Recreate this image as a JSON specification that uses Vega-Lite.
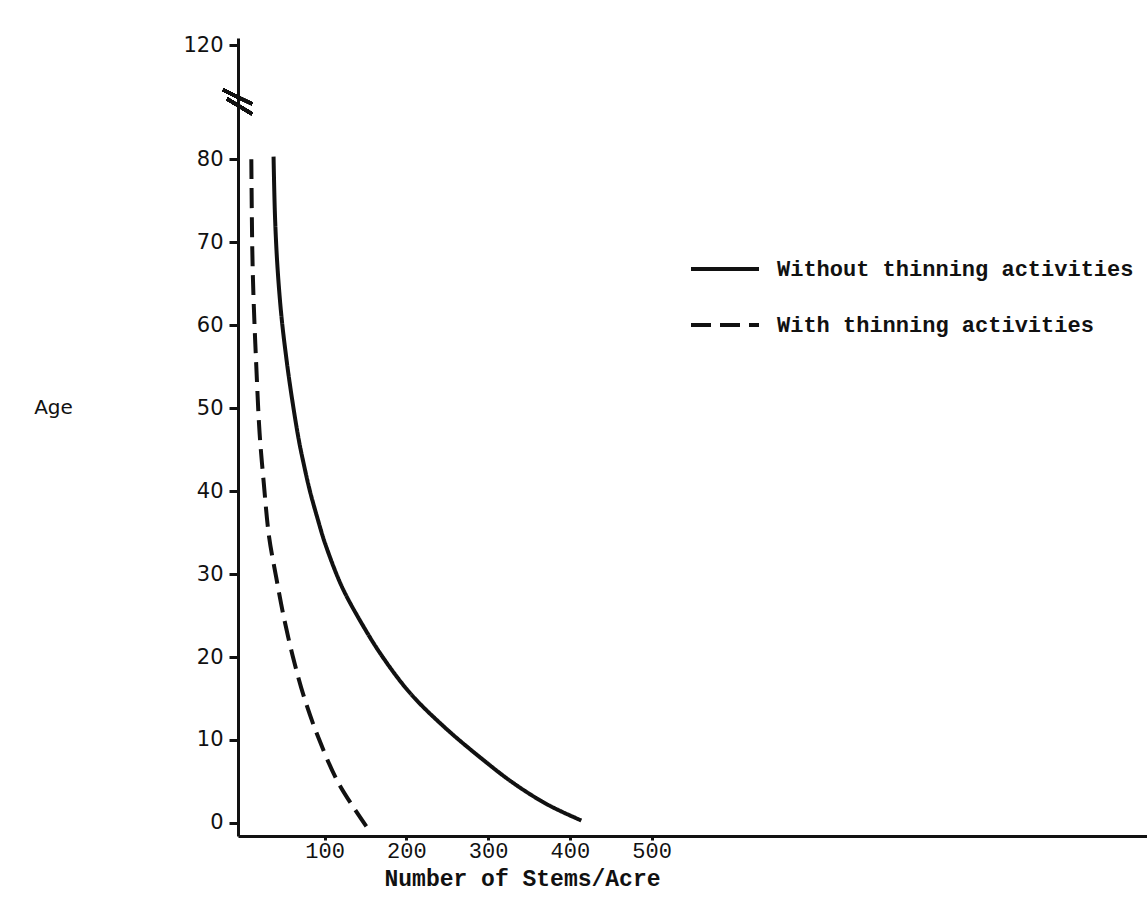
{
  "$schema": "https://vega.github.io/schema/vega-lite/v6.json",
  "autosize": {"type": "none"},
  "padding": {"left": 238, "top": 38, "right": 0, "bottom": 88},
  "width": 909,
  "height": 798,
  "background": "white",
  "config": {
    "view": {"stroke": null},
    "axis": {"grid": false, "domainColor": "#111", "domainWidth": 3, "tickColor": "#111", "tickWidth": 3, "labelColor": "#111", "titleColor": "#111"}
  },
  "data": {
    "values": [
      {"stems": 37.5, "age": 80.3, "series": "Without thinning activities"},
      {"stems": 39.3, "age": 73, "series": "Without thinning activities"},
      {"stems": 42.3, "age": 67, "series": "Without thinning activities"},
      {"stems": 47.2, "age": 61, "series": "Without thinning activities"},
      {"stems": 53.8, "age": 55.5, "series": "Without thinning activities"},
      {"stems": 60.3, "age": 51, "series": "Without thinning activities"},
      {"stems": 68.5, "age": 46.1, "series": "Without thinning activities"},
      {"stems": 75, "age": 43, "series": "Without thinning activities"},
      {"stems": 82, "age": 40, "series": "Without thinning activities"},
      {"stems": 91, "age": 36.8, "series": "Without thinning activities"},
      {"stems": 100.5, "age": 33.7, "series": "Without thinning activities"},
      {"stems": 121, "age": 28.5, "series": "Without thinning activities"},
      {"stems": 145, "age": 24.1, "series": "Without thinning activities"},
      {"stems": 171, "age": 20, "series": "Without thinning activities"},
      {"stems": 205, "age": 15.6, "series": "Without thinning activities"},
      {"stems": 246, "age": 11.6, "series": "Without thinning activities"},
      {"stems": 289, "age": 8, "series": "Without thinning activities"},
      {"stems": 331, "age": 4.8, "series": "Without thinning activities"},
      {"stems": 373, "age": 2.2, "series": "Without thinning activities"},
      {"stems": 414, "age": 0.3, "series": "Without thinning activities"},
      {"stems": 10.3, "age": 80, "series": "With thinning activities"},
      {"stems": 11.5, "age": 69, "series": "With thinning activities"},
      {"stems": 13.1, "age": 63, "series": "With thinning activities"},
      {"stems": 16.4, "age": 55, "series": "With thinning activities"},
      {"stems": 20.4, "age": 47, "series": "With thinning activities"},
      {"stems": 25.5, "age": 41, "series": "With thinning activities"},
      {"stems": 32, "age": 34.5, "series": "With thinning activities"},
      {"stems": 40, "age": 30, "series": "With thinning activities"},
      {"stems": 49, "age": 25.3, "series": "With thinning activities"},
      {"stems": 61, "age": 20.1, "series": "With thinning activities"},
      {"stems": 74.7, "age": 15.2, "series": "With thinning activities"},
      {"stems": 92.7, "age": 10.2, "series": "With thinning activities"},
      {"stems": 117, "age": 4.8, "series": "With thinning activities"},
      {"stems": 151, "age": -0.4, "series": "With thinning activities"}
    ]
  },
  "layer": [
    {
      "mark": {"type": "line", "color": "#111", "strokeWidth": 4, "interpolate": "catmull-rom"},
      "encoding": {
        "x": {
          "field": "stems", "type": "quantitative",
          "scale": {"domain": [-6, 1106], "nice": false, "zero": false},
          "axis": {
            "values": [100, 200, 300, 400, 500],
            "title": "Number of Stems/Acre",
            "titleFont": "Liberation Mono", "titleFontSize": 23, "titleFontWeight": "bold",
            "titleX": 284, "titleY": 42, "titleAnchor": null, "titleAlign": "center", "titleBaseline": "middle",
            "labelFont": "Liberation Mono", "labelFontSize": 22, "labelFontWeight": "normal",
            "tickSize": 4, "labelPadding": 0
          }
        },
        "y": {
          "field": "age", "type": "quantitative",
          "scale": {"domain": [-1.57, 94.6], "nice": false, "zero": false},
          "axis": {
            "values": [0, 10, 20, 30, 40, 50, 60, 70, 80, 93.7],
            "labelExpr": "datum.value > 90 ? '120' : datum.label",
            "title": "Age", "titleAngle": 0,
            "titleFont": "DejaVu Sans", "titleFontSize": 20, "titleFontWeight": "normal",
            "titleX": -185, "titleY": 369, "titleAlign": "center", "titleBaseline": "middle", "titleAnchor": null,
            "labelFont": "DejaVu Sans", "labelFontSize": 21,
            "tickSize": 9, "labelPadding": 6
          }
        },
        "strokeDash": {
          "field": "series", "type": "nominal",
          "scale": {"domain": ["Without thinning activities", "With thinning activities"], "range": [[1, 0], [20, 9]]},
          "legend": {
            "title": null, "orient": "none", "legendX": 451, "legendY": 195,
            "symbolType": "M-1,0H1", "symbolSize": 4624, "symbolStrokeWidth": 4, "symbolStrokeColor": "#111",
            "labelFont": "Liberation Mono", "labelFontSize": 22, "labelFontWeight": "bold", "labelColor": "#111",
            "labelOffset": 16, "labelLimit": 0, "rowPadding": 9
          }
        }
      }
    },
    {
      "mark": {"type": "point", "shape": "M-1,-0.8L0.93,0.13M-0.73,-0.2L0.93,0.8", "size": 900, "filled": false, "stroke": "#111", "strokeWidth": 3, "opacity": 1},
      "encoding": {
        "x": {"datum": -6, "type": "quantitative"},
        "y": {"datum": 86.9, "type": "quantitative"}
      }
    }
  ]
}
